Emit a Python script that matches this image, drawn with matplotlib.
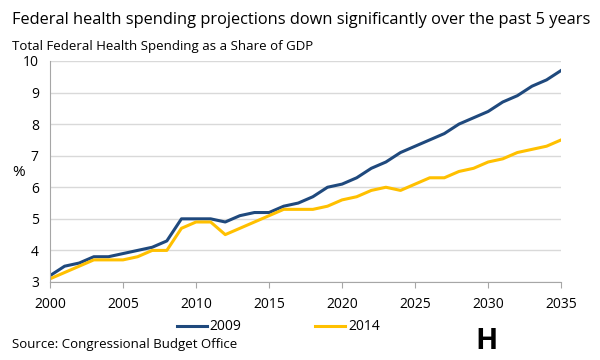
import matplotlib.pyplot as plt

plt.rcParams['font.family'] = ['Open Sans', 'DejaVu Sans']

years = list(range(2000, 2036))
proj_2009 = [3.2, 3.5, 3.6, 3.8, 3.8, 3.9, 4.0, 4.1, 4.3, 5.0, 5.0, 5.0, 4.9, 5.1, 5.2,
             5.2, 5.4, 5.5, 5.7, 6.0, 6.1, 6.3, 6.6, 6.8, 7.1, 7.3, 7.5, 7.7, 8.0, 8.2,
             8.4, 8.7, 8.9, 9.2, 9.4, 9.7]
proj_2014 = [3.1, 3.3, 3.5, 3.7, 3.7, 3.7, 3.8, 4.0, 4.0, 4.7, 4.9, 4.9, 4.5, 4.7, 4.9,
             5.1, 5.3, 5.3, 5.3, 5.4, 5.6, 5.7, 5.9, 6.0, 5.9, 6.1, 6.3, 6.3, 6.5, 6.6,
             6.8, 6.9, 7.1, 7.2, 7.3, 7.5]

fig = plt.figure(figsize=(6, 3.6), dpi=100)
ax = fig.add_axes([0.0833, 0.2167, 0.852, 0.614])

ax.plot(years, proj_2009, color='#1F497D', lw=2.2, label='2009')
ax.plot(years, proj_2014, color='#FFC000', lw=2.2, label='2014')

ax.set_xlim(2000, 2035)
ax.set_ylim(3, 10)
ax.set_xticks(range(2000, 2036, 5))
ax.set_yticks(range(3, 11))
ax.grid(axis='y', color='#D9D9D9', lw=1)
ax.set_axisbelow(True)
for s in ['top', 'right']:
    ax.spines[s].set_visible(False)
ax.spines['left'].set_color('#A6A6A6')
ax.spines['bottom'].set_color('#A6A6A6')
ax.tick_params(axis='y', length=0, labelsize=10, pad=8)
ax.tick_params(axis='x', length=4, color='#A6A6A6', labelsize=10, pad=7)

fig.text(0.02, 0.52, '%', fontsize=11, va='center')
fig.text(0.02, 0.945, 'Federal health spending projections down significantly over the past 5 years',
         fontsize=11.8, va='center')
fig.text(0.02, 0.87, 'Total Federal Health Spending as a Share of GDP', fontsize=9.5, va='center')
fig.text(0.02, 0.025, 'Source: Congressional Budget Office', fontsize=9.5, va='bottom')

fig.legend(loc='center', bbox_to_anchor=(0.464, 0.092), ncol=2, frameon=False,
           fontsize=10, handlelength=2.15, handletextpad=0.2, columnspacing=5.3)

fig.text(0.81, 0.052, 'H', fontsize=21, fontweight='bold', ha='center', va='center')

fig.savefig('out.png', dpi=100)
